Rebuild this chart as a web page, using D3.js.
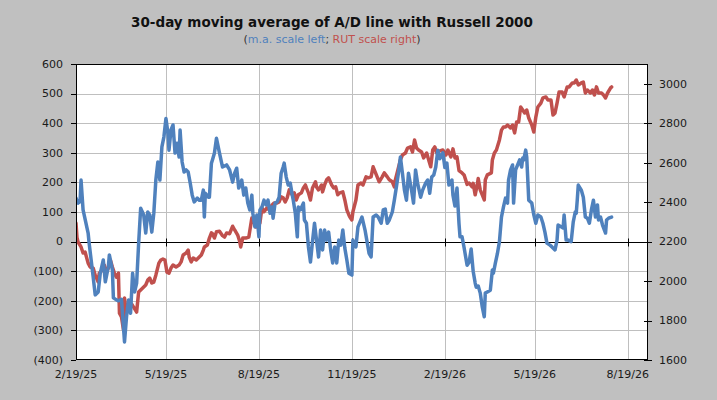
<!DOCTYPE html>
<html><head><meta charset="utf-8">
<script src="https://cdn.jsdelivr.net/npm/d3@7/dist/d3.min.js"></script>
<style>html,body{margin:0;padding:0;background:#c0c0c0;}svg{display:block;}</style>
</head><body>
<svg id="chart" width="717" height="400"></svg>
<script>
const titleText = "30-day moving average of A/D line with Russell 2000";
const leftTicks = [-400,-300,-200,-100,0,100,200,300,400,500,600];
const rightTicks = [1600,1800,2000,2200,2400,2600,2800,3000];
const xTickDates = ["2025-02-19","2025-05-19","2025-08-19","2025-11-19","2026-02-19","2026-05-19","2026-08-19"];
const xDomain = ["2025-02-19","2026-09-08"];
const leftDomain = [-400,600];
const rightDomain = [1600,3100];

const maDates = ["2025-02-19","2025-02-21","2025-02-23","2025-02-24","2025-02-26","2025-03-03","2025-03-04","2025-03-08","2025-03-10","2025-03-13","2025-03-15","2025-03-18","2025-03-20","2025-03-23","2025-03-24","2025-03-27","2025-03-28","2025-03-31","2025-04-02","2025-04-05","2025-04-06","2025-04-08","2025-04-10","2025-04-12","2025-04-14","2025-04-16","2025-04-18","2025-04-20","2025-04-22","2025-04-24","2025-04-27","2025-04-29","2025-05-01","2025-05-03","2025-05-05","2025-05-07","2025-05-09","2025-05-11","2025-05-13","2025-05-15","2025-05-17","2025-05-19","2025-05-21","2025-05-22","2025-05-24","2025-05-26","2025-05-28","2025-05-30","2025-06-01","2025-06-02","2025-06-04","2025-06-06","2025-06-08","2025-06-10","2025-06-12","2025-06-14","2025-06-16","2025-06-19","2025-06-21","2025-06-23","2025-06-25","2025-06-26","2025-06-27","2025-06-30","2025-07-01","2025-07-03","2025-07-04","2025-07-06","2025-07-08","2025-07-11","2025-07-14","2025-07-18","2025-07-21","2025-07-24","2025-07-26","2025-07-28","2025-07-30","2025-08-02","2025-08-04","2025-08-06","2025-08-08","2025-08-10","2025-08-12","2025-08-13","2025-08-15","2025-08-17","2025-08-19","2025-08-20","2025-08-22","2025-08-24","2025-08-26","2025-08-28","2025-08-30","2025-09-01","2025-09-02","2025-09-04","2025-09-06","2025-09-08","2025-09-10","2025-09-12","2025-09-13","2025-09-15","2025-09-17","2025-09-19","2025-09-21","2025-09-22","2025-09-24","2025-09-26","2025-09-27","2025-09-29","2025-10-02","2025-10-03","2025-10-05","2025-10-07","2025-10-09","2025-10-11","2025-10-13","2025-10-15","2025-10-17","2025-10-19","2025-10-21","2025-10-23","2025-10-25","2025-10-27","2025-10-29","2025-10-31","2025-11-02","2025-11-04","2025-11-06","2025-11-08","2025-11-10","2025-11-12","2025-11-14","2025-11-16","2025-11-19","2025-11-20","2025-11-23","2025-11-25","2025-11-29","2025-12-02","2025-12-04","2025-12-06","2025-12-08","2025-12-10","2025-12-13","2025-12-15","2025-12-18","2025-12-20","2025-12-22","2025-12-24","2025-12-26","2025-12-29","2025-12-31","2026-01-02","2026-01-04","2026-01-06","2026-01-08","2026-01-10","2026-01-12","2026-01-14","2026-01-17","2026-01-19","2026-01-21","2026-01-23","2026-01-26","2026-01-28","2026-01-31","2026-02-02","2026-02-04","2026-02-06","2026-02-08","2026-02-10","2026-02-12","2026-02-14","2026-02-17","2026-02-19","2026-02-21","2026-02-23","2026-02-26","2026-02-27","2026-03-01","2026-03-03","2026-03-05","2026-03-06","2026-03-08","2026-03-10","2026-03-13","2026-03-15","2026-03-17","2026-03-19","2026-03-21","2026-03-22","2026-03-24","2026-03-26","2026-03-28","2026-03-30","2026-03-31","2026-04-02","2026-04-05","2026-04-07","2026-04-08","2026-04-10","2026-04-12","2026-04-14","2026-04-16","2026-04-18","2026-04-20","2026-04-22","2026-04-23","2026-04-25","2026-04-27","2026-04-28","2026-04-30","2026-05-02","2026-05-04","2026-05-06","2026-05-07","2026-05-08","2026-05-10","2026-05-11","2026-05-13","2026-05-16","2026-05-18","2026-05-20","2026-05-22","2026-05-25","2026-05-27","2026-05-29","2026-05-31","2026-06-03","2026-06-05","2026-06-08","2026-06-10","2026-06-11","2026-06-14","2026-06-16","2026-06-17","2026-06-19","2026-06-21","2026-06-24","2026-06-26","2026-06-28","2026-06-29","2026-06-30","2026-07-01","2026-07-04","2026-07-06","2026-07-08","2026-07-10","2026-07-12","2026-07-14","2026-07-16","2026-07-18","2026-07-20","2026-07-21","2026-07-23","2026-07-25","2026-07-28","2026-07-29","2026-07-31","2026-08-03"];
const maValues = [147,130,135,208,107,29,-5,-120,-180,-170,-107,-62,-136,-85,-45,-96,-190,-197,-200,-195,-242,-339,-254,-197,-242,-107,-170,-140,-5,113,90,29,100,90,32,96,208,269,208,320,354,416,366,309,377,394,299,332,286,377,269,235,242,235,198,157,134,147,140,140,174,83,163,150,150,265,276,299,349,299,252,259,242,201,231,248,181,208,157,181,130,107,157,96,50,90,16,107,117,140,124,140,96,117,79,130,134,150,231,252,265,218,191,198,157,140,96,16,117,107,130,73,62,-18,-69,0,62,5,-52,39,-28,39,5,32,-28,-72,-18,-72,5,-12,39,-22,-62,-107,-113,5,-18,50,83,39,0,-40,-52,83,90,83,62,107,110,62,73,100,140,184,231,286,231,174,140,231,174,130,242,198,150,174,198,208,163,218,225,252,309,280,300,250,265,191,208,157,120,181,60,16,16,-20,-80,-70,-25,-100,-140,-154,-150,-174,-221,-254,-174,-170,-164,-96,-107,-72,-40,0,83,117,147,130,208,242,259,130,242,259,276,252,282,276,309,286,140,130,90,62,90,83,62,32,-5,-12,-18,-28,5,56,50,46,90,5,5,0,66,100,96,140,191,174,150,83,79,62,107,140,83,124,73,83,56,29,73,79,83];

const rutDates = ["2025-02-19","2025-02-20","2025-02-21","2025-02-24","2025-02-26","2025-02-28","2025-03-03","2025-03-05","2025-03-08","2025-03-10","2025-03-13","2025-03-14","2025-03-17","2025-03-19","2025-03-21","2025-03-23","2025-03-25","2025-03-27","2025-03-29","2025-03-31","2025-04-02","2025-04-03","2025-04-05","2025-04-07","2025-04-08","2025-04-10","2025-04-12","2025-04-15","2025-04-17","2025-04-20","2025-04-22","2025-04-24","2025-04-26","2025-04-29","2025-05-01","2025-05-03","2025-05-05","2025-05-07","2025-05-09","2025-05-11","2025-05-12","2025-05-14","2025-05-16","2025-05-18","2025-05-20","2025-05-22","2025-05-24","2025-05-26","2025-05-29","2025-06-01","2025-06-03","2025-06-05","2025-06-08","2025-06-10","2025-06-11","2025-06-13","2025-06-15","2025-06-18","2025-06-21","2025-06-23","2025-06-25","2025-06-26","2025-06-29","2025-07-01","2025-07-03","2025-07-04","2025-07-06","2025-07-08","2025-07-11","2025-07-14","2025-07-16","2025-07-18","2025-07-21","2025-07-24","2025-07-26","2025-07-29","2025-07-31","2025-08-01","2025-08-03","2025-08-06","2025-08-09","2025-08-12","2025-08-14","2025-08-16","2025-08-18","2025-08-20","2025-08-22","2025-08-24","2025-08-27","2025-08-29","2025-09-01","2025-09-03","2025-09-06","2025-09-08","2025-09-10","2025-09-12","2025-09-14","2025-09-16","2025-09-18","2025-09-21","2025-09-23","2025-09-25","2025-09-27","2025-09-30","2025-10-02","2025-10-04","2025-10-05","2025-10-07","2025-10-09","2025-10-11","2025-10-14","2025-10-15","2025-10-17","2025-10-20","2025-10-21","2025-10-23","2025-10-25","2025-10-27","2025-10-30","2025-11-01","2025-11-03","2025-11-05","2025-11-07","2025-11-10","2025-11-12","2025-11-14","2025-11-16","2025-11-17","2025-11-19","2025-11-20","2025-11-23","2025-11-25","2025-11-28","2025-11-30","2025-12-03","2025-12-05","2025-12-08","2025-12-10","2025-12-12","2025-12-14","2025-12-16","2025-12-19","2025-12-21","2025-12-24","2025-12-26","2025-12-29","2025-12-31","2026-01-01","2026-01-03","2026-01-06","2026-01-08","2026-01-11","2026-01-13","2026-01-16","2026-01-18","2026-01-20","2026-01-22","2026-01-24","2026-01-27","2026-01-29","2026-02-01","2026-02-03","2026-02-05","2026-02-07","2026-02-09","2026-02-11","2026-02-14","2026-02-17","2026-02-20","2026-02-22","2026-02-25","2026-02-27","2026-03-01","2026-03-03","2026-03-05","2026-03-08","2026-03-10","2026-03-13","2026-03-15","2026-03-18","2026-03-19","2026-03-21","2026-03-23","2026-03-24","2026-03-26","2026-03-28","2026-03-30","2026-03-31","2026-04-02","2026-04-06","2026-04-07","2026-04-09","2026-04-11","2026-04-14","2026-04-16","2026-04-18","2026-04-20","2026-04-22","2026-04-25","2026-04-27","2026-04-29","2026-05-01","2026-05-03","2026-05-05","2026-05-07","2026-05-09","2026-05-11","2026-05-13","2026-05-16","2026-05-18","2026-05-20","2026-05-22","2026-05-25","2026-05-27","2026-05-30","2026-06-01","2026-06-04","2026-06-06","2026-06-08","2026-06-10","2026-06-12","2026-06-15","2026-06-17","2026-06-20","2026-06-22","2026-06-25","2026-06-27","2026-06-29","2026-07-01","2026-07-04","2026-07-06","2026-07-08","2026-07-10","2026-07-13","2026-07-15","2026-07-17","2026-07-19","2026-07-21","2026-07-24","2026-07-26","2026-07-28","2026-07-30","2026-08-02","2026-08-03"];
const rutValues = [2294,2220,2198,2173,2142,2147,2091,2071,2066,2030,1995,2040,2056,2081,2045,2066,2107,2071,2040,2020,2040,1837,1818,1752,1914,1837,1868,1884,1868,1843,1945,1955,1965,1980,2005,2015,1990,1995,2030,2071,2091,2107,2112,2107,2045,2040,2066,2081,2071,2081,2097,2132,2142,2157,2122,2097,2117,2107,2122,2132,2157,2173,2183,2218,2244,2240,2218,2250,2252,2230,2223,2244,2240,2278,2259,2233,2200,2173,2218,2218,2223,2320,2300,2274,2300,2294,2371,2351,2371,2361,2386,2396,2396,2401,2427,2422,2401,2422,2462,2437,2447,2411,2437,2447,2472,2487,2472,2447,2411,2472,2503,2477,2462,2487,2452,2487,2513,2523,2487,2472,2477,2437,2447,2452,2411,2361,2335,2325,2310,2351,2411,2487,2497,2487,2528,2523,2528,2579,2553,2528,2503,2528,2548,2528,2513,2503,2477,2513,2553,2614,2639,2649,2674,2680,2654,2715,2674,2664,2654,2624,2649,2614,2579,2664,2680,2649,2660,2664,2639,2664,2629,2670,2624,2629,2560,2548,2538,2490,2497,2477,2495,2437,2487,2520,2462,2437,2411,2513,2538,2548,2614,2649,2664,2715,2765,2781,2781,2791,2776,2791,2751,2806,2806,2882,2867,2852,2867,2826,2791,2755,2831,2882,2902,2928,2933,2918,2918,2841,2852,2902,2958,2958,2933,2984,2984,3004,3004,3019,2994,3004,3009,2953,2968,2953,2968,2943,2984,2953,2953,2943,2928,2953,2979,2984];

const maColor = "#4f81bd", rutColor = "#c0504d";
const L = 76, R = 648, T = 64, B = 360;
const parse = d3.utcParse("%Y-%m-%d");
const svg = d3.select("#chart");
const font = "'DejaVu Sans', Verdana, sans-serif";

const x = d3.scaleUtc().domain(xDomain.map(parse)).range([L, R]);
const yL = d3.scaleLinear().domain(leftDomain).range([B, T]);
const yR = d3.scaleLinear().domain(rightDomain).range([B, T]);
const px = v => Math.round(v) + 0.5;

svg.append("rect").attr("x", L).attr("y", T).attr("width", R - L).attr("height", B - T).attr("fill", "#fff");

const grid = svg.append("g").attr("stroke", "#bfbfbf").attr("stroke-width", 1);
grid.selectAll("line.h").data(leftTicks.filter(v => v !== 0 && v !== leftDomain[0] && v !== leftDomain[1]))
  .join("line").attr("x1", L).attr("x2", R).attr("y1", d => px(yL(d))).attr("y2", d => px(yL(d)));
grid.selectAll("line.v").data(xTickDates.slice(1).map(parse))
  .join("line").attr("x1", d => px(x(d))).attr("x2", d => px(x(d))).attr("y1", T).attr("y2", B);

const zy = px(yL(0));
svg.append("line").attr("x1", L).attr("x2", R).attr("y1", zy).attr("y2", zy).attr("stroke", "#000");
svg.append("g").selectAll("line").data(xTickDates.map(parse)).join("line")
  .attr("x1", d => px(x(d))).attr("x2", d => px(x(d))).attr("y1", zy - 4).attr("y2", zy + 4).attr("stroke", "#000");

svg.append("clipPath").attr("id", "clip").append("rect").attr("x", L).attr("y", T).attr("width", R - L).attr("height", B - T);
const rutLine = d3.line().x((d, i) => x(parse(rutDates[i]))).y(d => yR(d));
const maLine = d3.line().x((d, i) => x(parse(maDates[i]))).y(d => yL(d));
const g = svg.append("g").attr("clip-path", "url(#clip)");
g.append("path").datum(rutValues).attr("d", rutLine).attr("fill", "none").attr("stroke", rutColor)
  .attr("stroke-width", 3.5).attr("stroke-linejoin", "round").attr("stroke-linecap", "round");
g.append("path").datum(maValues).attr("d", maLine).attr("fill", "none").attr("stroke", maColor)
  .attr("stroke-width", 3.5).attr("stroke-linejoin", "round").attr("stroke-linecap", "round");

svg.append("rect").attr("x", L + 0.5).attr("y", T + 0.5).attr("width", R - L - 1).attr("height", B - T - 1)
  .attr("fill", "none").attr("stroke", "#000");

const fmtL = v => v < 0 ? "(" + (-v) + ")" : String(v);
const la = svg.append("g");
la.selectAll("line").data(leftTicks).join("line")
  .attr("x1", L - 5).attr("x2", L).attr("y1", d => px(yL(d))).attr("y2", d => px(yL(d))).attr("stroke", "#000");
la.selectAll("text").data(leftTicks).join("text")
  .attr("x", 63).attr("y", d => yL(d)).attr("dy", "0.35em").attr("text-anchor", "end")
  .attr("font-family", font).attr("font-size", 11).attr("fill", "#1a1a1a").text(fmtL);

const ra = svg.append("g");
ra.selectAll("line").data(rightTicks).join("line")
  .attr("x1", R - 4).attr("x2", R + 4).attr("y1", d => px(yR(d))).attr("y2", d => px(yR(d))).attr("stroke", "#000");
ra.selectAll("text").data(rightTicks).join("text")
  .attr("x", 659).attr("y", d => yR(d)).attr("dy", "0.35em").attr("text-anchor", "start")
  .attr("font-family", font).attr("font-size", 11).attr("fill", "#1a1a1a").text(d => String(d));

const fmtX = d3.utcFormat("%-m/%-d/%y");
svg.append("g").selectAll("text").data(xTickDates.map(parse)).join("text")
  .attr("x", d => x(d)).attr("y", 374).attr("dy", "0.35em").attr("text-anchor", "middle")
  .attr("font-family", font).attr("font-size", 11).attr("fill", "#1a1a1a").text(fmtX);

svg.append("text").attr("x", 332).attr("y", 27).attr("text-anchor", "middle")
  .attr("font-family", font).attr("font-weight", "bold").attr("font-size", 13.5).attr("fill", "#111").text(titleText);
const sub = svg.append("text").attr("x", 332).attr("y", 43).attr("text-anchor", "middle")
  .attr("font-family", font).attr("font-size", 11).attr("fill", "#333");
sub.append("tspan").text("(");
sub.append("tspan").attr("fill", maColor).text("m.a. scale left");
sub.append("tspan").text("; ");
sub.append("tspan").attr("fill", rutColor).text("RUT scale right");
sub.append("tspan").text(")");
</script>
</body></html>
